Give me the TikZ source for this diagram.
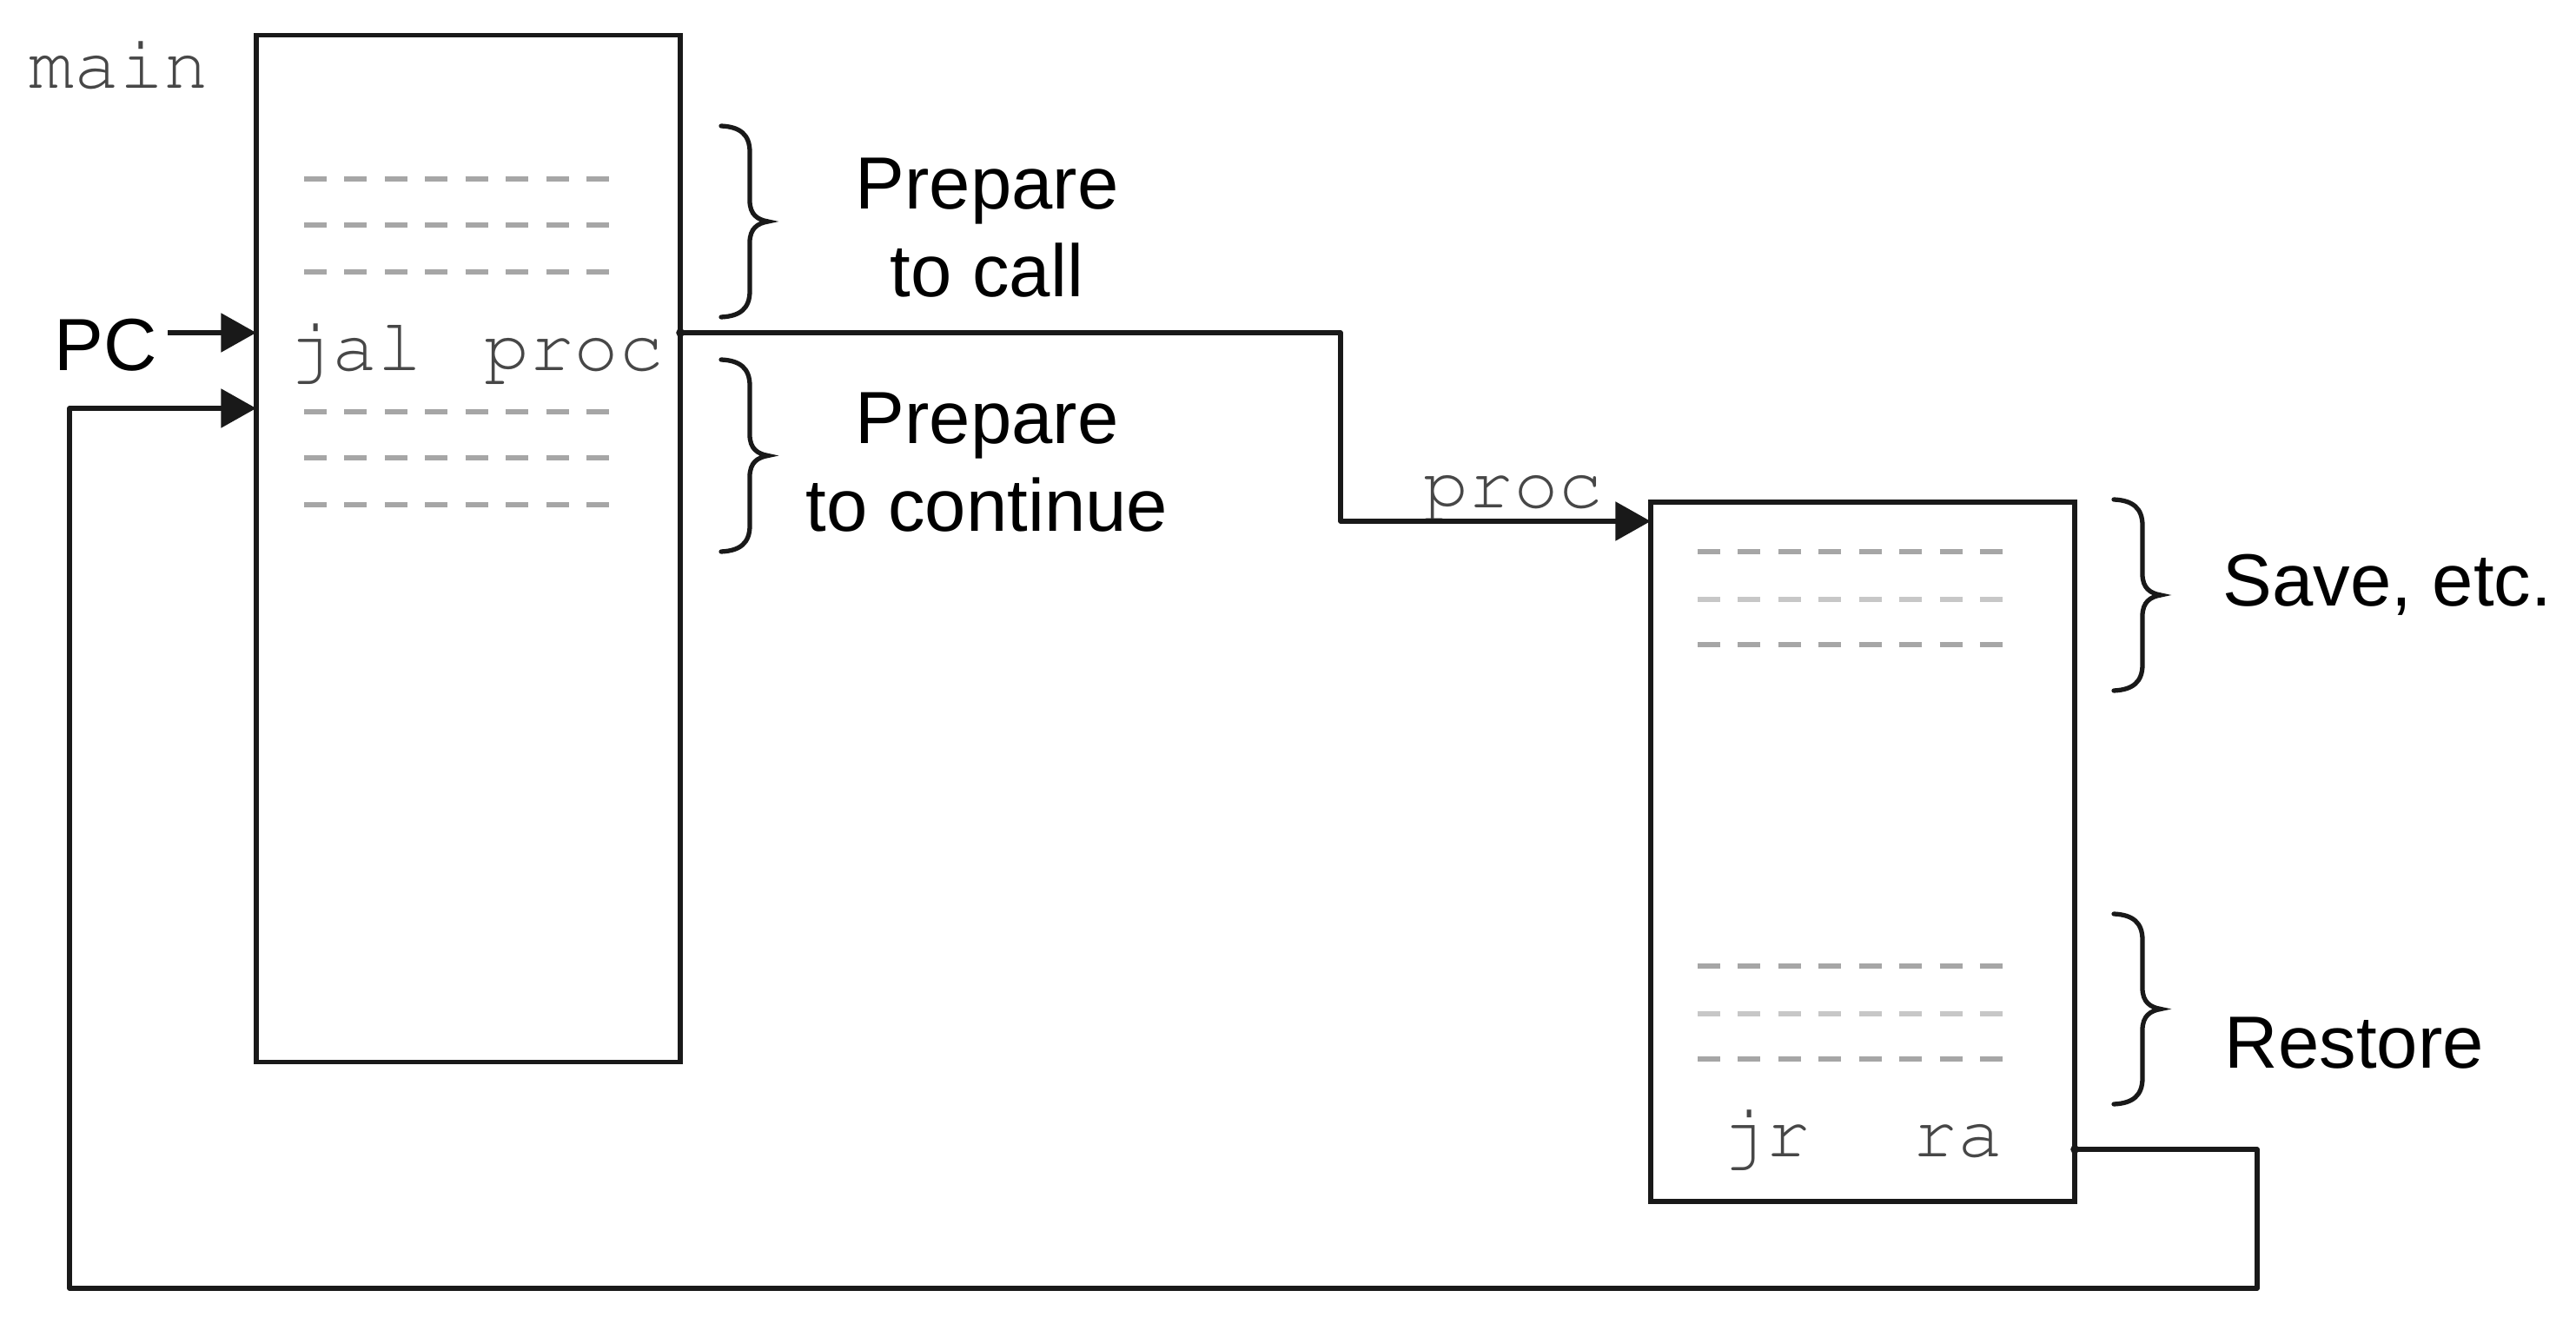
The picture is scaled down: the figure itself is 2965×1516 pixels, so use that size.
\documentclass[tikz,border=0pt]{standalone}
\usepackage[T1,TU]{fontenc}
\usepackage{fontspec}
\setmainfont{Liberation Sans}
\usetikzlibrary{arrows.meta}
\newcommand{\courfont}{\fontencoding{T1}\fontfamily{pcr}\fontseries{m}\fontshape{n}\fontsize{24.5pt}{29pt}\selectfont}
\begin{document}
\begin{tikzpicture}[x=0.01cm,y=-0.01cm,
  wire/.style={line width=1.56pt, draw=black!90, line join=round},
  arr/.style={wire, -{Triangle[length=11.5pt,width=12.5pt]}},
  box/.style={draw=black!90, line width=1.56pt, minimum width=4.88cm, inner sep=0pt, outer sep=0pt},
  sans/.style={font=\fontsize{24.2pt}{29pt}\selectfont, inner sep=0pt, text=black},
  mono/.style={font=\courfont, inner sep=0pt, text=black!72},
  dashrow/.style={line width=1.7pt, draw=black!35, dash pattern=on 7.4pt off 5.8pt},
  dashlite/.style={dashrow, draw=black!22},
  bracepath/.style={draw=black!90, line width=1.5pt, line cap=round},
  pics/rbrace/.style={code={
    \pgfmathsetmacro\bh{#1}\pgfmathsetmacro\bm{#1/2}
    \draw[bracepath] (0,0) .. controls (22,1) and (33,10) .. (33,30)
      -- (33,\bm-24) .. controls (33,\bm-8) and (42,\bm-2) .. (54,\bm)
      .. controls (42,\bm+2) and (33,\bm+8) .. (33,\bm+24)
      -- (33,\bh-30) .. controls (33,\bh-10) and (22,\bh-1) .. (0,\bh);
  }}]
\useasboundingbox (0,0) rectangle (2965,1516);

% boxes
\node[box, minimum height=11.81cm] (mainbox) at (539,631.5) {};
\node[box, minimum height=8.05cm] (procbox) at (2144,980.5) {};

% code placeholders
\foreach \y in {206,259,313,474,527,581} \draw[dashrow] (350,\y) -- (706,\y);
\foreach \y in {635,742,1112,1219} \draw[dashrow] (1954,\y) -- (2310,\y);
\foreach \y in {690,1167} \draw[dashlite] (1954,\y) -- (2310,\y);

% mono labels
\node[mono, anchor=base west] (mainlbl) at (33,102) {main};
\node[mono, anchor=base west] (jal) at (330,427) {jal};
\node[mono, anchor=base east] (procarg) at (765,427) {proc};
\node[mono, anchor=base west] (proclbl) at (1638,585) {proc};
\node[mono, anchor=base west] (jr) at (1980,1332) {jr};
\node[mono, anchor=base east] (ra) at (2306,1332) {ra};

% sans labels
\node[sans, anchor=base west] (pc) at (62,427) {PC};
\node[sans, align=center, anchor=base] (prep1) at (1136,342) {Prepare\\to call};
\node[sans, align=center, anchor=base] (prep2) at (1136,612) {Prepare\\to continue};
\node[sans, anchor=base west] (save) at (2558,698) {Save, etc.};
\node[sans, anchor=base west] (restore) at (2560,1229) {Restore};

% braces
\pic at (830,145) {rbrace=220};
\pic at (830,414) {rbrace=221};
\pic at (2433,575) {rbrace=220};
\pic at (2433,1052) {rbrace=219};

% connectors
\coordinate (pcout) at (193,383);
\coordinate (callbend) at (1543,600);
\coordinate (b1) at (2598,1323);
\coordinate (b2) at (80,1483);
\coordinate (b3) at (80,470);

\draw[arr] (pcout) -- (pcout -| mainbox.west);
\draw[arr] (mainbox.east |- pcout) -| (callbend) -- (callbend -| procbox.west);
\draw[arr] (procbox.east |- b1) -- (b1) |- (b2) -- (b3) -- (b3 -| mainbox.west);
\fill[black!90] (mainbox.east |- pcout) circle (1.4pt);
\fill[black!90] (procbox.east |- b1) circle (1.4pt);
\end{tikzpicture}
\end{document}
